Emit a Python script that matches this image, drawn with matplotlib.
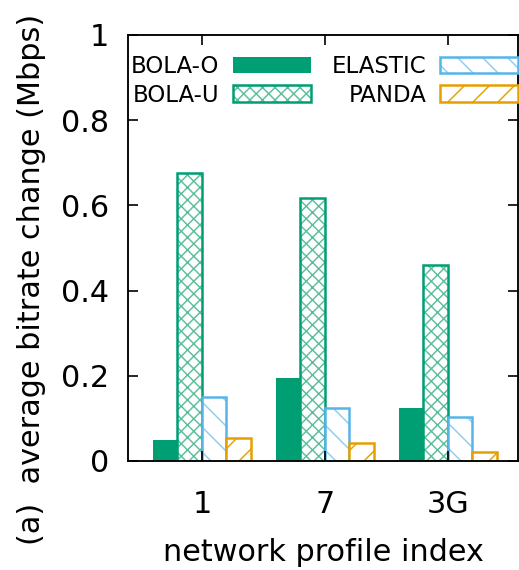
import matplotlib.pyplot as plt
from matplotlib.legend_handler import HandlerTuple
import numpy as np

# Perfiles de red y cambio medio de bitrate (Mbps) por algoritmo
perfiles = ['1', '7', '3G']
bola_o = [0.05, 0.196, 0.125]
bola_u = [0.675, 0.617, 0.461]
elastic = [0.15, 0.125, 0.104]
panda = [0.055, 0.043, 0.022]

series = [
    ('BOLA-O', bola_o, '#009e73', None, None),
    ('BOLA-U', bola_u, '#009e73', '#5cbf9c', 'xxxx'),
    ('ELASTIC', elastic, '#56b4e9', '#8fcdf0', '\\\\'),
    ('PANDA', panda, '#e69f00', '#e69f00', '//'),
]

plt.rcParams['font.family'] = 'DejaVu Sans'
plt.rcParams['hatch.linewidth'] = 0.7

fig = plt.figure(figsize=(519 / 150, 570 / 150), dpi=150)
ax = fig.add_axes([128 / 519, 1 - 461 / 570, 390 / 519, 426 / 570])

x = np.arange(len(perfiles))
ancho = 0.2
handles = []
for i, (nombre, valores, color, color_trama, trama) in enumerate(series):
    pos = x + (i - 1.5) * ancho
    if trama is None:
        b = ax.bar(pos, valores, ancho, color=color, linewidth=0)
        handles.append(b)
    else:
        relleno = ax.bar(pos, valores, ancho, color='white',
                         edgecolor=color_trama, linewidth=0, hatch=trama)
        borde = ax.bar(pos, valores, ancho, fill=False,
                       edgecolor=color, linewidth=1.2)
        handles.append((relleno, borde))

ax.set_xlim(-0.6, 2.57)
ax.set_ylim(0, 1)
ax.set_xticks(x)
ax.set_xticklabels(perfiles)
ax.set_yticks([0, 0.2, 0.4, 0.6, 0.8, 1])
ax.set_yticklabels(['0', '0.2', '0.4', '0.6', '0.8', '1'])
ax.tick_params(axis='both', direction='in', top=True, right=True,
               length=5, width=0.8, labelsize=14.5)
ax.tick_params(axis='y', pad=9)
ax.tick_params(axis='x', pad=14)
for s in ax.spines.values():
    s.set_linewidth(0.9)

ax.set_xlabel('network profile index', fontsize=14.5, labelpad=9)
fig.text(32 / 519, 0.51, '(a)  average bitrate change (Mbps)',
         rotation=90, ha='center', va='center', fontsize=14.5)

ax.legend(handles, [s[0] for s in series],
          handler_map={tuple: HandlerTuple(ndivide=1)},
          ncol=2, markerfirst=False, frameon=False, fontsize=11,
          handlelength=3.4, handleheight=0.75, handletextpad=0.6,
          columnspacing=0.9, labelspacing=0.25, borderpad=0,
          borderaxespad=0,
          loc='upper right', bbox_to_anchor=(518 / 519, 1 - 55 / 570),
          bbox_transform=fig.transFigure)

fig.savefig('out.png', dpi=150)
